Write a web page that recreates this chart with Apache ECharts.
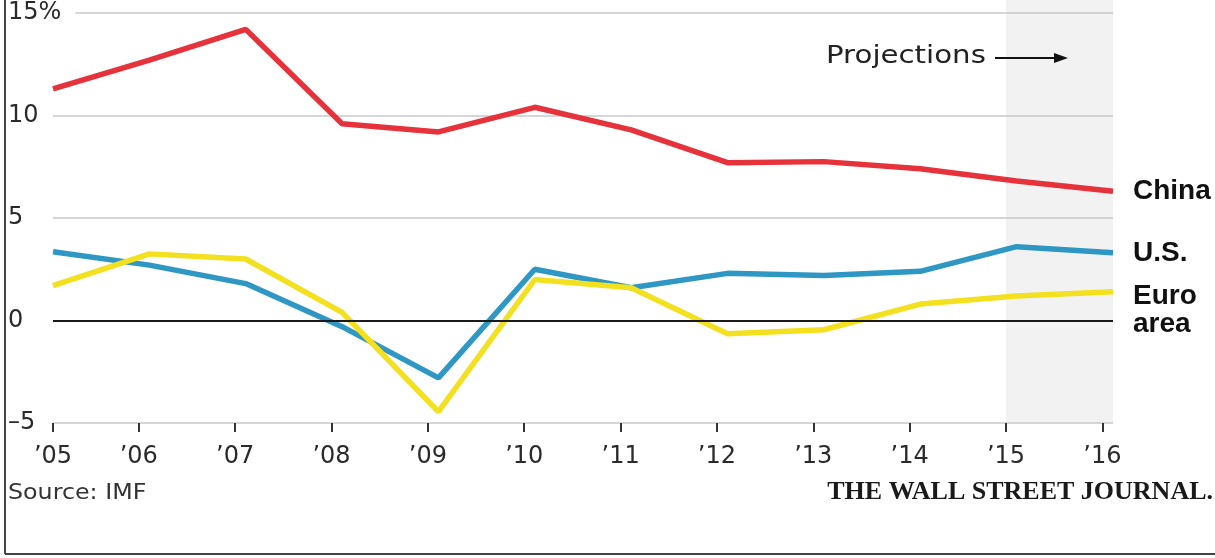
<!DOCTYPE html>
<html>
<head>
<meta charset="utf-8">
<script src="https://cdn.jsdelivr.net/npm/echarts@6/dist/echarts.min.js"></script>
<style>
html,body{margin:0;padding:0;background:#fff;}
#chart{width:1215px;height:558px;}
</style>
</head>
<body>
<div id="chart"></div>
<script>
const years = ['2005','2006','2007','2008','2009','2010','2011','2012','2013','2014','2015','2016'];
const xTickLabels = ['\u201905','\u201906','\u201907','\u201908','\u201909','\u201910','\u201911','\u201912','\u201913','\u201914','\u201915','\u201916'];
const china = [11.3, 12.7, 14.2, 9.6, 9.2, 10.4, 9.3, 7.7, 7.75, 7.4, 6.8, 6.3];
const us    = [3.35, 2.7, 1.8, -0.3, -2.8, 2.5, 1.6, 2.3, 2.2, 2.4, 3.6, 3.3];
const euro  = [1.7, 3.25, 3.0, 0.4, -4.45, 2.0, 1.6, -0.65, -0.45, 0.8, 1.2, 1.4];
const yTickValues = [-5, 0, 5, 10, 15];
const yTickLabels = ['\u20135', '0', '5', '10', '15%'];
const seriesNames = ['China', 'U.S.', 'Euro\narea'];
const projectionStart = 2015;

const chart = echarts.init(document.getElementById('chart'));
const FONT = 'DejaVu Sans';
const tickVals = [2005.11].concat(years.slice(1).map(Number));
const endLabelStyle = { fontFamily: 'Liberation Sans', fontWeight: 'bold', fontSize: 28, color: '#111' };

const option = {
  animation: false,
  backgroundColor: '#fff',
  grid: { left: 53, right: 102, top: 13, bottom: 135, outerBoundsMode: 'none' },
  xAxis: [
    { type: 'category', data: years, boundaryGap: false, show: false },
    {
      type: 'value', min: 2005.11, max: 2016.11, position: 'bottom',
      axisLine: { show: false, onZero: false }, splitLine: { show: false },
      axisTick: { show: true, length: 9, customValues: tickVals, lineStyle: { color: '#333', width: 2 } },
      axisLabel: {
        show: true, customValues: tickVals, margin: 22,
        fontFamily: FONT, fontSize: 24, color: '#2a2a2a',
        formatter: v => xTickLabels[Math.round(v - 2005)]
      }
    }
  ],
  yAxis: [
    {
      type: 'value', min: -5, max: 15, interval: 5,
      axisLine: { show: false }, axisTick: { show: false }, axisLabel: { show: false },
      splitLine: { show: true, lineStyle: { color: '#c9c9c9', width: 1.5 } }
    },
    {
      type: 'value', min: -5, max: 15, interval: 5, position: 'left', z: 3,
      axisLine: { show: false }, axisTick: { show: false }, splitLine: { show: false },
      axisLabel: {
        show: true, align: 'left', margin: 45, fontFamily: FONT, fontSize: 24, color: '#2a2a2a',
        backgroundColor: '#fff', padding: [0, 14, 0, 0],
        formatter: v => yTickLabels[yTickValues.indexOf(v)]
      }
    }
  ],
  series: [
    {
      name: seriesNames[0], type: 'line', data: china, symbol: 'none', z: 3,
      lineStyle: { color: '#e5323b', width: 5.5 },
      endLabel: Object.assign({ show: true, formatter: seriesNames[0], distance: 20 }, endLabelStyle),
      markLine: {
        silent: true, symbol: 'none', label: { show: false },
        lineStyle: { color: '#1a1a1a', width: 2, type: 'solid' },
        data: [{ yAxis: 0 }]
      }
    },
    {
      name: seriesNames[1], type: 'line', data: us, symbol: 'none', z: 3,
      lineStyle: { color: '#2e97c3', width: 5.5 },
      endLabel: Object.assign({ show: true, formatter: seriesNames[1], distance: 20 }, endLabelStyle)
    },
    {
      name: seriesNames[2], type: 'line', data: euro, symbol: 'none', z: 4,
      lineStyle: { color: '#f3e01f', width: 5.5 },
      endLabel: Object.assign({ show: true, formatter: seriesNames[2], distance: 20, offset: [0, 18], lineHeight: 28 }, endLabelStyle)
    }
  ]
};
chart.setOption(option);

const bx0 = chart.convertToPixel({ xAxisIndex: 1 }, projectionStart);
const bx1 = chart.convertToPixel({ xAxisIndex: 1 }, 2016.11);
const by1 = chart.convertToPixel({ yAxisIndex: 0 }, -5);

chart.setOption({
  graphic: [
    { type: 'rect', z: -10, shape: { x: bx0, y: 0, width: bx1 - bx0, height: by1 }, style: { fill: '#f2f2f2' } },
    { type: 'text', x: 826, y: 44, scaleX: 1.17, style: { text: 'Projections', font: '25px "DejaVu Sans"', fill: '#222' } },
    { type: 'line', shape: { x1: 995, y1: 58, x2: 1056, y2: 58 }, style: { stroke: '#111', lineWidth: 2 } },
    { type: 'polygon', shape: { points: [[1054, 53], [1068, 58], [1054, 63]] }, style: { fill: '#111' } },
    { type: 'text', x: 8, y: 482, scaleX: 1.08, style: { text: 'Source: IMF', font: '22px "DejaVu Sans"', fill: '#333' } },
    { type: 'text', right: 2, top: 479, style: { text: 'THE WALL STREET JOURNAL.', font: 'bold 26px "Liberation Serif"', fill: '#1a1a1a' } },
    { type: 'line', shape: { x1: 5, y1: 0, x2: 5, y2: 554 }, style: { stroke: '#444', lineWidth: 2 } },
    { type: 'line', shape: { x1: 5, y1: 554, x2: 1215, y2: 554 }, style: { stroke: '#444', lineWidth: 2 } }
  ]
});
</script>
</body>
</html>
